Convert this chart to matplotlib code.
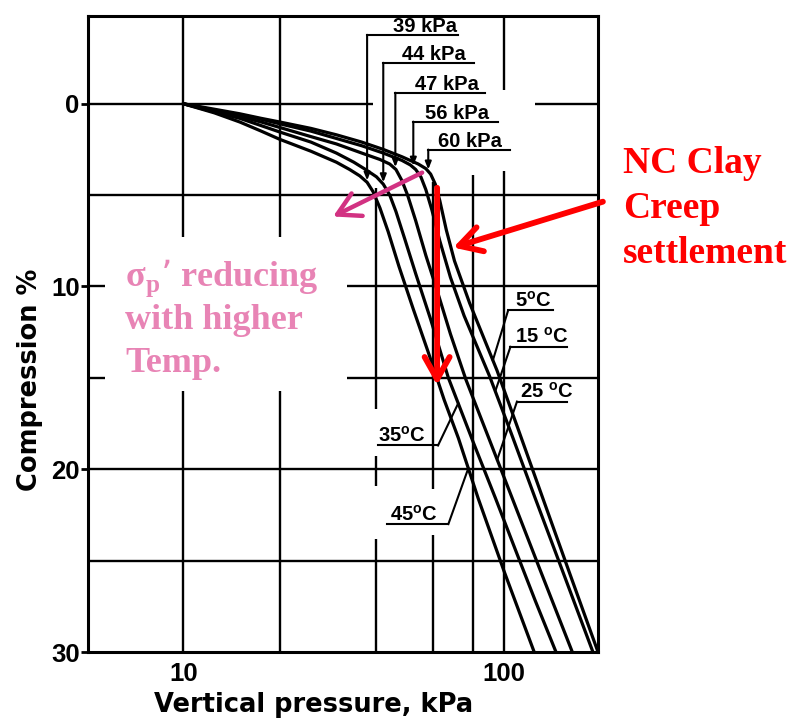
import numpy as np
import matplotlib
matplotlib.use("Agg")
import matplotlib.pyplot as plt
from matplotlib.patches import Rectangle

# ---------------- data ----------------
# compression curves (vertical pressure kPa, compression %)
p_5C = [10, 12.5, 15, 17.5, 20, 25, 30, 36, 42, 48, 54, 57, 59, 61, 63, 66, 70, 78, 95, 110, 132, 160, 196]
c_5C = [0, 0.3, 0.55, 0.8, 1.0, 1.35, 1.7, 2.1, 2.5, 2.9, 3.3, 3.55, 3.85, 4.4, 5.3, 6.9, 8.6, 10.9, 14.6, 17.7, 21.6, 25.7, 30.0]

p_15C = [10, 12.5, 15, 17.5, 20, 25, 30, 36, 42, 48, 51, 53, 55, 57, 59.5, 63, 68, 75, 90, 105, 125, 150, 189]
c_15C = [0, 0.35, 0.6, 0.85, 1.1, 1.5, 1.9, 2.3, 2.7, 3.1, 3.35, 3.6, 4.0, 4.7, 5.8, 7.5, 9.5, 11.6, 14.9, 18.0, 21.6, 25.3, 30.0]

p_25C = [10, 12.5, 15, 17.5, 20, 25, 30, 36, 41, 44, 46, 48, 50, 53, 57, 62, 68, 76, 90, 106, 130, 163]
c_25C = [0, 0.4, 0.7, 1.0, 1.3, 1.8, 2.2, 2.7, 3.05, 3.3, 3.6, 4.2, 5.0, 6.4, 8.3, 10.3, 12.6, 15.1, 18.4, 21.6, 25.6, 30.0]

p_35C = [10, 12.5, 15, 17.5, 20, 25, 30, 34, 37, 40, 42, 44, 46, 49, 53, 59, 67, 80, 94, 110, 125, 145]
c_35C = [0, 0.45, 0.8, 1.2, 1.55, 2.1, 2.7, 3.2, 3.6, 4.0, 4.4, 5.0, 5.9, 7.4, 9.3, 11.8, 15.0, 18.5, 21.6, 24.7, 27.2, 30.0]

p_45C = [10, 12.5, 15, 17.5, 20, 25, 30, 33, 35.5, 37.4, 39, 41, 43.5, 47, 52, 58, 65, 72, 83, 100, 124]
c_45C = [0, 0.5, 1.0, 1.5, 1.95, 2.6, 3.2, 3.6, 3.95, 4.3, 4.8, 5.7, 7.0, 8.9, 11.2, 13.6, 16.2, 18.3, 21.6, 25.6, 30.0]

temp_labels = ["5$^\\mathregular{o}$C", "15 $^\\mathregular{o}$C", "25 $^\\mathregular{o}$C",
               "35$^\\mathregular{o}$C", "45$^\\mathregular{o}$C"]
curves_p = [p_5C, p_15C, p_25C, p_35C, p_45C]
curves_c = [c_5C, c_15C, c_25C, c_35C, c_45C]

# preconsolidation pressure labels (one per curve, 45°C ... 5°C)
sigma_labels = ["39 kPa", "44 kPa", "47 kPa", "56 kPa", "60 kPa"]
sigma_curve = [4, 3, 2, 1, 0]           # index into curves
sigma_lead_p = [37.4, 42.0, 45.8, 52.1, 58.0]

y_ticks = [0, 10, 20, 30]
x_ticks = [10, 100]
x_ticklabels = ["10", "100"]

# ---------------- figure ----------------
W, H = 789, 722
fig = plt.figure(figsize=(W / 100, H / 100), dpi=100)
ax = fig.add_axes([88 / W, 1 - 652 / H, 510 / W, 636 / H])
ax.set_xscale("log")
ax.set_xlim(5.05, 196)
ax.set_ylim(30, -4.8)

def interp_curve(p, i):
    return float(np.interp(np.log10(p), np.log10(curves_p[i]), curves_c[i]))

# grid (segments, with the gaps seen in the scan)
glw = 1.7
XMIN, XMAX = 5.05, 196
ax.hlines(0, XMIN, 39.1, color="black", lw=glw, zorder=1)
ax.hlines(0, 125, XMAX, color="black", lw=glw, zorder=1)
for yv in [5, 10, 15, 20, 25]:
    ax.hlines(yv, XMIN, XMAX, color="black", lw=glw, zorder=1)
for xv in [10, 20]:
    ax.vlines(xv, -4.8, 30, color="black", lw=glw, zorder=1)
for (a, b) in [(4.6, 16.7), (19.3, 20.9), (23.8, 30)]:
    ax.vlines(40, a, b, color="black", lw=glw, zorder=1)
for (a, b) in [(4.3, 21.1), (23.6, 30)]:
    ax.vlines(60, a, b, color="black", lw=glw, zorder=1)
ax.vlines(80, 3.9, 30, color="black", lw=glw, zorder=1)
for (a, b) in [(-4.8, -0.77), (3.7, 30)]:
    ax.vlines(100, a, b, color="black", lw=glw, zorder=1)

# white box behind the pink note
ax.add_patch(Rectangle((5.71, 7.27), 32.4 - 5.71, 15.74 - 7.27,
                       facecolor="white", edgecolor="none", zorder=2))

# curves
for P, C in zip(curves_p, curves_c):
    ax.plot(P, C, color="black", lw=2.3, solid_joinstyle="round", solid_capstyle="round", zorder=3)

# sigma_p labels with leaders
under_c = [-3.77, -2.24, -0.60, 0.98, 2.51]
under_right = [71.9, 80.6, 87.3, 95.8, 104.4]
text_left = [45.1, 48.1, 52.9, 56.8, 62.0]
lab_font = dict(family="Liberation Sans", weight="bold", size=14.5)
for k in range(5):
    lp = sigma_lead_p[k]
    tip_c = interp_curve(lp, sigma_curve[k])
    ax.plot([lp, under_right[k]], [under_c[k], under_c[k]], color="black", lw=1.5, zorder=4)
    ax.annotate("", xy=(lp, tip_c - 0.1), xytext=(lp, under_c[k]),
                arrowprops=dict(arrowstyle="-|>,head_length=0.45,head_width=0.18",
                                lw=1.5, color="black", shrinkA=0, shrinkB=0),
                zorder=4)
    ax.text(text_left[k], under_c[k] - 0.15, sigma_labels[k], ha="left", va="baseline",
            zorder=5, **lab_font)

# temperature labels with leaders
t_text_left = [108.2, 108.2, 112.2, 40.5, 44.2]
t_under_c = [11.3, 13.3, 16.3, 18.7, 23.0]
t_under_l = [102.9, 104.6, 109.6, 40.5, 43.2]
t_under_r = [142, 157, 157, 62.2, 67.0]
t_tip_p = [92.2, 93.8, 95.1, 71.9, 77.3]
for k in range(5):
    ax.plot([t_under_l[k], t_under_r[k]], [t_under_c[k], t_under_c[k]], color="black", lw=1.5, zorder=4)
    start = t_under_l[k] if k < 3 else t_under_r[k]
    tc = interp_curve(t_tip_p[k], k)
    ax.plot([start, t_tip_p[k]], [t_under_c[k], tc], color="black", lw=1.5, zorder=4)
    ax.text(t_text_left[k], t_under_c[k] - 0.2, temp_labels[k], ha="left", va="baseline",
            zorder=5, **lab_font)

# arrows
ax.annotate("", xy=(29.3, 6.17), xytext=(55.5, 3.77),
            arrowprops=dict(arrowstyle="->,head_length=0.8,head_width=0.45", mutation_scale=20,
                            lw=3.2, color="#D23282", shrinkA=0, shrinkB=0), zorder=6)
ax.annotate("", xy=(61.8, 15.4), xytext=(61.8, 4.6),
            arrowprops=dict(arrowstyle="->,head_length=0.8,head_width=0.45", mutation_scale=20,
                            lw=4.2, color="#FF0000", shrinkA=0, shrinkB=0), zorder=6)
ax.annotate("", xy=(69.4, 7.87), xytext=(203, 5.36), annotation_clip=False,
            arrowprops=dict(arrowstyle="->,head_length=0.8,head_width=0.45", mutation_scale=20,
                            lw=4.2, color="#FF0000", shrinkA=0, shrinkB=0), zorder=6)

# axes styling
for s in ax.spines.values():
    s.set_linewidth(2.2)
    s.set_zorder(5)
ax.set_yticks(y_ticks)
ax.set_yticklabels([str(v) for v in y_ticks], family="Liberation Sans", weight="bold", size=18.5)
ax.set_xticks(x_ticks)
ax.set_xticklabels(x_ticklabels, family="Liberation Sans", weight="bold", size=18.5)
ax.xaxis.set_minor_locator(matplotlib.ticker.NullLocator())
ax.tick_params(axis="y", direction="out", length=5, width=2, pad=1)
ax.tick_params(axis="x", length=0, pad=7)

fig.text(314 / W, 1 - 705 / H, "Vertical pressure, kPa", ha="center", va="center",
         family="DejaVu Sans", weight="bold", size=18.5)
fig.text(30 / W, 1 - 380 / H, "Compression %", ha="center", va="center", rotation=90,
         family="DejaVu Sans", weight="bold", size=18.5)

# red note
red_font = dict(family="Liberation Serif", weight="bold", size=27, color="#FF0000")
for line, base in zip(["NC Clay", "Creep", "settlement"], [173, 218, 263]):
    fig.text(623 / W, 1 - base / H, line, ha="left", va="baseline", **red_font)

# pink note
pink_font = dict(family="Liberation Serif", weight="bold", size=26, color="#E884B5")
for line, base in zip(["σ$_\\mathregular{p}$’ reducing", "with higher", "Temp."], [286, 329, 372]):
    fig.text(125 / W, 1 - base / H, line, ha="left", va="baseline", zorder=7, **pink_font)

fig.savefig("out.png", dpi=100)
